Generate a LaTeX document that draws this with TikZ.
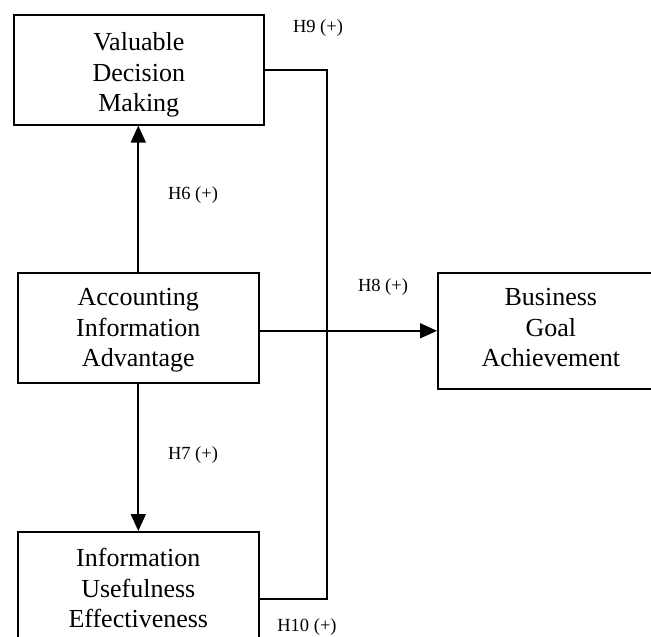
\documentclass[tikz,border=0pt]{standalone}
\usepackage{fontspec}
\setmainfont{Liberation Serif}
\usetikzlibrary{arrows.meta}

\tikzset{
  construct/.style={draw, line width=1.6pt, inner sep=0pt, align=center,
    font=\fontsize{26}{30.5}\selectfont},
  link/.style={line width=1.8pt},
  path/.style={link, -{Triangle[length=17pt,width=15pt]}},
  hyp/.style={font=\fontsize{18.5}{22}\selectfont, inner sep=0pt}
}

\begin{document}
\begin{tikzpicture}[x=1pt,y=-1pt]
  \useasboundingbox (0,0) rectangle (651,637);
  \clip (0,0) rectangle (651,637);

  % constructs (text height / depth fix the first baseline inside each box)
  \node[construct, text width=250pt, text height=36pt, text depth=74pt,
        anchor=north west] (vdm) at (13,14) {Valuable\\Decision\\Making};
  \node[construct, text width=241pt, text height=33pt, text depth=77pt,
        anchor=north west] (aia) at (17,272) {Accounting\\Information\\Advantage};
  \node[construct, text width=226pt, text height=33pt, text depth=83pt,
        anchor=north west] (bga) at (437,272) {Business\\Goal\\Achievement};
  \node[construct, text width=241pt, text height=35pt, text depth=99pt,
        anchor=north west] (iue) at (17,531) {Information\\Usefulness\\Effectiveness};

  % vertical rail carrying H9 / H10
  \coordinate (rail) at (327,0);

  % hypothesised paths
  \draw[path] (aia.north) -- (aia.north |- vdm.south);
  \draw[path] (aia.south) -- (aia.south |- iue.north);
  \draw[path] (aia.east |- bga.west) -- (bga.west);
  \draw[link] (vdm.east) -| (rail |- iue.east) -- (iue.east);

  % hypothesis labels
  \node[hyp] (h9)  at (318,28)  {H9 (+)};
  \node[hyp] (h6)  at (193,195) {H6 (+)};
  \node[hyp] (h8)  at (383,287) {H8 (+)};
  \node[hyp] (h7)  at (193,455) {H7 (+)};
  \node[hyp] (h10) at (307,627) {H10 (+)};
\end{tikzpicture}
\end{document}
